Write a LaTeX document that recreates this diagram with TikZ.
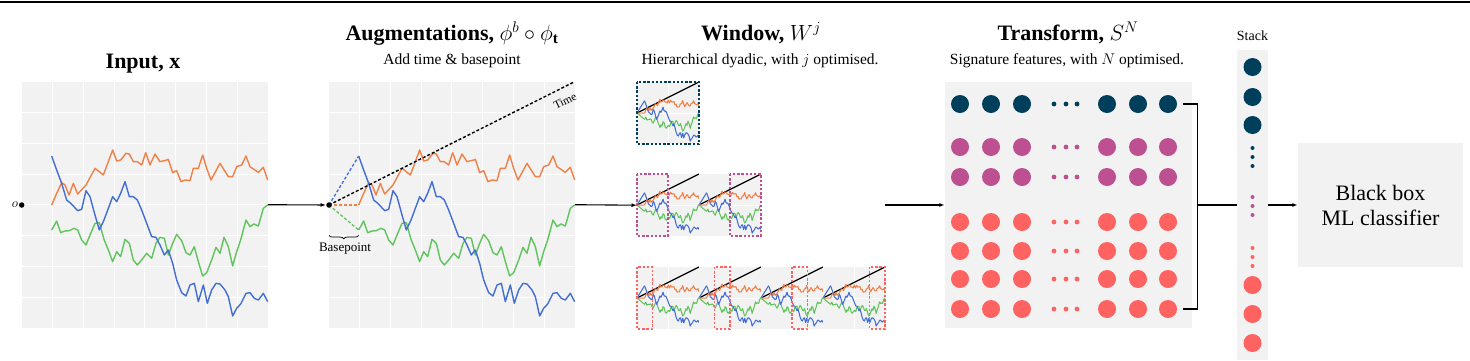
\RequirePackage{fix-cm}
\documentclass[tikz,border=0pt]{standalone}
\usepackage{fontspec}
\setmainfont{Liberation Serif}
\usetikzlibrary{arrows.meta,decorations.pathreplacing}
\definecolor{pgray}{RGB}{242,242,242}
\definecolor{cteal}{HTML}{003F5C}
\definecolor{cmag}{HTML}{BC5090}
\definecolor{ccor}{HTML}{FF6361}
\definecolor{lor}{RGB}{240,128,70}
\definecolor{lbl}{RGB}{66,110,212}
\definecolor{lgr}{RGB}{96,196,92}
\def\pO{(155,615)--(170,580)--(185,548)--(195,555)--(207,585)--(220,550)--(233,582)--(258,555)--(285,505)--(310,525)--(338,450)--(350,483)--(362,480)--(378,460)--(388,462)--(400,485)--(412,485)--(425,495)--(437,458)--(450,495)--(465,462)--(480,485)--(500,480)--(505,478)--(518,518)--(530,512)--(543,545)--(555,540)--(570,542)--(580,505)--(595,505)--(608,465)--(620,505)--(633,540)--(660,490)--(685,530)--(698,530)--(710,500)--(725,495)--(738,468)--(750,500)--(775,517)--(790,502)--(803,540)}
\def\pB{(155,468)--(170,510)--(185,550)--(200,600)--(210,608)--(220,618)--(233,632)--(245,628)--(258,572)--(270,590)--(285,645)--(298,690)--(312,660)--(325,625)--(338,590)--(350,605)--(362,580)--(375,545)--(388,590)--(400,590)--(412,600)--(425,630)--(440,670)--(455,710)--(468,712)--(480,735)--(493,765)--(505,750)--(518,790)--(530,840)--(545,878)--(558,888)--(570,855)--(583,850)--(595,905)--(610,855)--(622,910)--(635,870)--(648,850)--(660,852)--(675,870)--(685,890)--(698,948)--(710,925)--(722,912)--(738,880)--(750,878)--(763,895)--(775,900)--(790,880)--(803,905)}
\def\pG{(155,690)--(170,663)--(182,698)--(195,693)--(208,692)--(222,685)--(233,690)--(245,720)--(258,735)--(270,705)--(285,670)--(298,668)--(312,718)--(325,750)--(338,785)--(350,755)--(362,770)--(375,718)--(388,730)--(400,780)--(412,795)--(425,780)--(440,760)--(455,775)--(468,730)--(480,712)--(493,715)--(505,765)--(518,730)--(530,703)--(545,722)--(558,758)--(570,765)--(583,740)--(595,785)--(608,828)--(620,818)--(635,780)--(648,742)--(660,760)--(672,712)--(685,740)--(698,798)--(710,755)--(722,720)--(738,660)--(750,680)--(762,672)--(775,678)--(790,625)--(803,615)}
\newcommand{\mygrid}{%
  \foreach \i in {1,...,7}{
    \draw[white, line width=0.8pt] (65+92.25*\i,245) -- (65+92.25*\i,983);
    \draw[white, line width=0.8pt] (65,245+92.25*\i) -- (803,245+92.25*\i);}}
\newcommand{\mypanel}[3]{%
  \node[inner sep=0pt, minimum width=62pt, minimum height=62pt, anchor=north west] (#3) at (#1,#2) {};
  \begin{scope}[shift={(#1-5.46,#2-20.58)}, scale=0.084]
    \fill[pgray] (65,245) rectangle (803,983);
    \draw[white, line width=0.5pt] (434,245) -- (434,983) (65,614) -- (803,614);
    \draw[black, line width=1.3pt] (65,614) -- (803,245);
    \draw[lbl, mline] (65,614) -- (155,468);
    \draw[lor, mline] (65,614) -- (155,615);
    \draw[lgr, mline] (65,614) -- (155,690);
    \draw[lor, mline] \pO;
    \draw[lgr, mline] \pG;
    \draw[lbl, mline] \pB;
  \end{scope}}
\begin{document}
\begin{tikzpicture}[x=1pt,y=-1pt,
  panel/.style={fill=pgray, draw=none, inner sep=0pt},
  pline/.style={line width=1.4pt, line join=round},
  mline/.style={line width=1.05pt, line join=round},
  arr/.style={line width=1.1pt, -{Latex[length=5.5pt,width=4pt]}},
  conn/.style={line width=1.1pt},
  ttl/.style={anchor=base, font=\fontsize{22}{26}\selectfont},
  sub/.style={anchor=base, font=\fontsize{15.5}{18}\selectfont},
  bigdot/.style={circle, inner sep=0pt, minimum size=18pt, draw=none},
  ptdot/.style={circle, fill=black, inner sep=0pt, minimum size=5.5pt},
  frm/.style={line width=1.9pt, dash pattern=on 2.4pt off 1.8pt}]
\useasboundingbox (0,0) rectangle (1470,360);
\fill[white] (0,0) rectangle (1470,360);
\draw[line width=2pt] (0,2) -- (1470,2);

% ---------- Input ----------
\node[ttl] (tin) at (143,68.3) {\textbf{Input,} $\mathbf{x}$};
\node[panel, minimum width=246pt, minimum height=246pt] (inp) at (144.7,204.7) {};
\begin{scope}[scale=1/3]
  \mygrid
  \draw[lor, pline] \pO;
  \draw[lgr, pline] \pG;
  \draw[lbl, pline] \pB;
\end{scope}
\node[ptdot] (o) at (21.7,205) {};
\node[anchor=east, inner sep=0.5pt, font=\fontsize{13}{15}\selectfont] (olab) at (o.west) {$o$};

% ---------- Augmentations ----------
\node[ttl] (taug) at (452,40) {\textbf{Augmentations,} $\phi^b\circ\phi_{\mathbf{t}}$};
\node[sub] (saug) at (452,64) {Add time \& basepoint};
\node[panel, minimum width=246pt, minimum height=246pt] (aug) at (451.7,204.7) {};
\begin{scope}[shift={(307,0)}, scale=1/3]
  \mygrid
  \draw[lor, pline] \pO;
  \draw[lgr, pline] \pG;
  \draw[lbl, pline] \pB;
  \draw[lbl, line width=1.3pt, dash pattern=on 3pt off 2pt] (66,615) -- (155,468);
  \draw[lor, line width=1.3pt, dash pattern=on 3pt off 2pt] (66,615) -- (155,615);
  \draw[lgr, line width=1.3pt, dash pattern=on 3pt off 2pt] (66,615) -- (155,690);
  \draw[black, line width=1.4pt, dash pattern=on 3pt off 2pt] (66,615) -- (803,245);
  \draw[line width=0.7pt, decorate, decoration={brace, mirror, amplitude=3.5pt}] (66,706) -- (155,706);
\end{scope}
\node[rotate=26.5, inner sep=0pt, font=\fontsize{11.5}{13}\selectfont] (tlab) at (565,101) {Time};
\node[anchor=base, font=\fontsize{13}{15}\selectfont] (bplab) at (345,251) {Basepoint};
\node[ptdot] (bp) at (329,205) {};
\draw[arr] (inp.east) -- (bp);

% ---------- Window ----------
\node[ttl] (twin) at (761,40) {\textbf{Window,} $W^j$};
\node[sub] (swin) at (760,64) {Hierarchical dyadic, with $j$ optimised.};
\mypanel{637}{82}{w11}
\mypanel{637}{174}{w21}
\mypanel{699}{174}{w22}
\mypanel{637}{267}{w31}
\mypanel{699}{267}{w32}
\mypanel{761}{267}{w33}
\mypanel{823}{267}{w34}
\draw[frm, cteal] (637,82) rectangle (699,144);
\draw[frm, cmag] (637,174) rectangle (668,236);
\draw[frm, cmag] (730,174) rectangle (761,236);
\draw[frm, ccor] (637,267) rectangle (652.5,329);
\draw[frm, ccor] (714.5,267) rectangle (730,329);
\draw[frm, ccor] (792,267) rectangle (807.5,329);
\draw[frm, ccor] (869.5,267) rectangle (885,329);
\draw[arr] (aug.east) -- (w21.west);

% ---------- Transform ----------
\node[ttl] (ttr) at (1068,40) {\textbf{Transform,} $S^N$};
\node[sub] (str) at (1067,64) {Signature features, with $N$ optimised.};
\node[panel, minimum width=247pt, minimum height=246pt] (tr) at (1068.5,205) {};
\foreach \r/\y/\c in {1/104/cteal,2/147/cmag,3/177/cmag,4/222/ccor,5/251/ccor,6/279/ccor,7/309/ccor}{
  \foreach \k/\x in {1/960,2/991,3/1022,4/1107,5/1138,6/1168}{
    \node[bigdot, fill=\c] (t\r-\k) at (\x,\y) {};}
  \foreach \x in {1054,1066,1077}{\fill[\c] (\x,\y) circle (2.4pt);}
}
\coordinate (wend) at (885,205);
\draw[arr] (wend) -- (tr.west);
\draw[conn] ([xshift=6pt]t1-6.east) -- ++(14,0) |- ([xshift=6pt]t7-6.east);
\coordinate (bm) at (1197,205);

% ---------- Stack ----------
\node[anchor=base, font=\fontsize{14}{16}\selectfont] (tstk) at (1252.5,40.5) {Stack};
\node[panel, minimum width=31pt, minimum height=310pt] (stk) at (1252.5,205) {};
\foreach \y/\c [count=\n] in {67/cteal,97/cteal,125/cteal,285/ccor,314/ccor,343/ccor}{
  \node[bigdot, fill=\c] (s\n) at (1252.5,\y) {};}
\foreach \y/\c in {148/cteal,157/cteal,166/cteal,197/cmag,206/cmag,215/cmag,248/ccor,257/ccor,266/ccor}{
  \fill[\c] (1252.5,\y) circle (2pt);}
\draw[conn] (bm) -- (stk.west);

% ---------- Classifier ----------
\node[panel, minimum width=165pt, minimum height=124pt, align=center,
  font=\fontsize{22}{25}\selectfont] (bb) at (1380.5,205) {Black box\\ML classifier};
\draw[arr] (stk.east) -- (bb.west);
\end{tikzpicture}
\end{document}
